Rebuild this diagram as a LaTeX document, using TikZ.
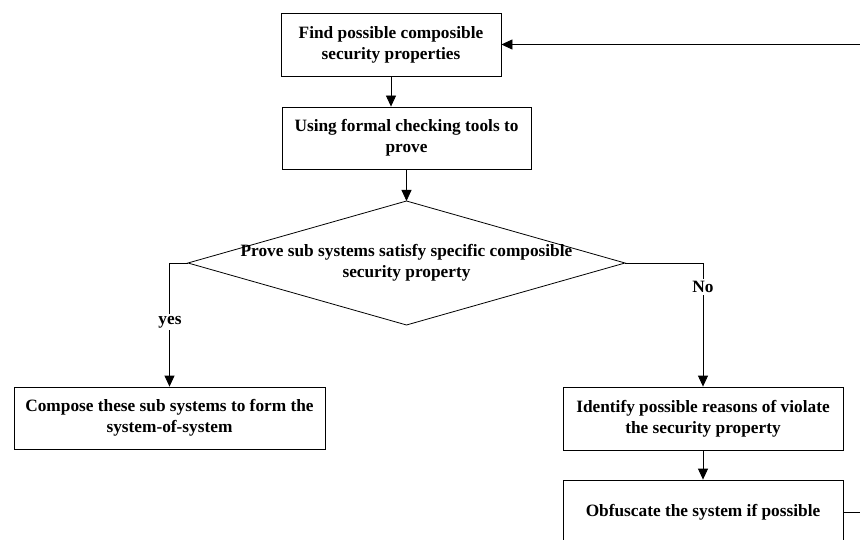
\documentclass[tikz,border=0pt]{standalone}
\usepackage{fontspec}
\setmainfont{Liberation Serif}
\usetikzlibrary{arrows.meta}

\begin{document}
\begin{tikzpicture}[x=1pt,y=-1pt,
  txt/.style={font=\fontsize{17.3}{21}\selectfont\bfseries, align=center},
  box/.style={txt, draw, line width=0.8pt, inner sep=0pt},
  flow/.style={line width=0.8pt, -{Triangle[length=11pt,width=10pt]}},
  lbl/.style={txt, fill=white, inner sep=2pt}]
\clip (0,0) rectangle (860,540);
\fill[white] (0,0) rectangle (860,540);

% process steps
\node[box, minimum width=220pt, minimum height=63pt] (find) at (391,44.5)
  {Find possible composible\\security properties};
\node[box, minimum width=249pt, minimum height=62pt] (use) at (406.5,138)
  {Using formal checking tools to\\prove};
\node[box, minimum width=311pt, minimum height=62pt] (compose) at (169.5,418)
  {Compose these sub systems to form the\\system-of-system};
\node[box, minimum width=280pt, minimum height=63pt] (identify) at (703,418.5)
  {Identify possible reasons of violate\\the security property};
\node[box, minimum width=280pt, minimum height=64pt] (obf) at (703,512)
  {Obfuscate the system if possible};

% decision
\coordinate (dtop) at (406.5,201);
\coordinate (dleft) at (188,263);
\coordinate (dright) at (625,263);
\coordinate (dbot) at (406.5,325);
\draw[line width=0.8pt] (dtop) -- (dright) -- (dbot) -- (dleft) -- cycle;
\node[txt] (prove) at (406.5,262.5)
  {Prove sub systems satisfy specific composible\\security property};

% connectors
\draw[flow] (find.south) -- (find.south |- use.north);
\draw[flow] (use.south) -- (dtop);
\draw[flow] (dleft) -| (compose.north);
\draw[flow] (dright) -| (identify.north);
\draw[flow] (identify.south) -- (obf.north);
\draw[flow] (obf.east) -- ++(40,0) |- (find.east);

% branch labels
\node[lbl] (yes) at (170,322) {yes};
\node[lbl] (no) at (703,287) {No};
\end{tikzpicture}
\end{document}
